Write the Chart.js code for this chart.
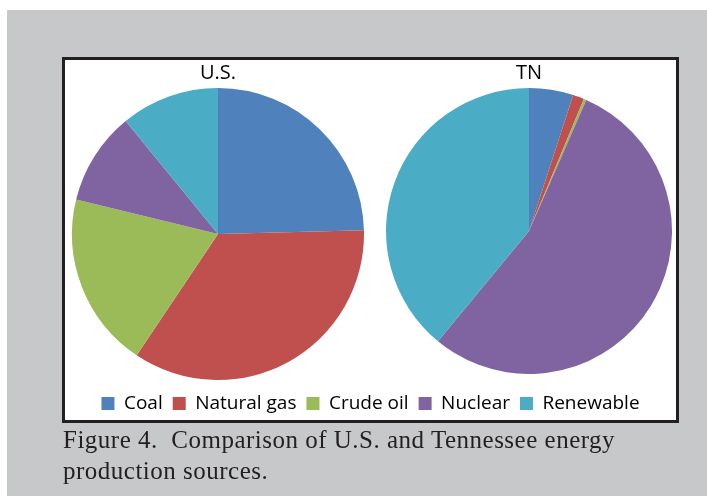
<!DOCTYPE html>
<html>
<head>
<meta charset="utf-8">
<script src="https://cdn.jsdelivr.net/npm/chart.js@4.4.0/dist/chart.umd.min.js"></script>
<style>
html,body{margin:0;padding:0;background:#fff;width:707px;height:496px;overflow:hidden;position:relative;}
#gray{position:absolute;left:7px;top:10px;width:700px;height:486px;background:#c7c8ca;}
#box{position:absolute;left:62px;top:57px;width:617px;height:366px;box-sizing:border-box;border:3px solid #231f20;background:#fff;}
canvas{position:absolute;}
#cUS{left:65px;top:60px;}
#cTN{left:382px;top:60px;}
#cLeg{left:65px;top:384px;}
#cap{position:absolute;left:63px;top:424px;font-family:"Liberation Serif","Times New Roman",serif;font-size:25px;letter-spacing:0.5px;line-height:31px;color:#231f20;white-space:nowrap;}
</style>
</head>
<body>
<div id="gray"></div>
<div id="box"></div>
<canvas id="cUS" width="306" height="320"></canvas>
<canvas id="cTN" width="294" height="314"></canvas>
<canvas id="cLeg" width="611" height="80"></canvas>
<div id="cap">Figure 4.&nbsp; Comparison of U.S. and Tennessee energy<br>production sources.</div>
<script>
// ---- data ----
const categories = ["Coal", "Natural gas", "Crude oil", "Nuclear", "Renewable"];
const usValues = [24.6, 34.8, 19.4, 10.3, 10.9];
const tnValues = [5.0, 1.26, 0.3, 54.4, 39.0];
const chartTitles = ["U.S.", "TN"];
const colors = ["#4F81BD", "#C0504D", "#9BBB59", "#8064A2", "#4BACC6"];

const FONT = "'Open Sans', 'Liberation Sans', sans-serif";

function pieChart(id, title, values) {
  return new Chart(document.getElementById(id), {
    type: "pie",
    data: {
      labels: categories,
      datasets: [{
        data: values,
        backgroundColor: colors,
        borderWidth: 0,
        hoverOffset: 0,
        offset: 0
      }]
    },
    options: {
      responsive: false,
      animation: false,
      layout: { padding: 0 },
      plugins: {
        legend: { display: false },
        tooltip: { enabled: false },
        title: {
          display: true,
          text: title,
          color: "#000",
          font: { family: FONT, size: 20, weight: "normal", lineHeight: 1.2 },
          padding: { top: 1, bottom: 3 }
        }
      }
    }
  });
}

pieChart("cUS", chartTitles[0], usValues);
pieChart("cTN", chartTitles[1], tnValues);

new Chart(document.getElementById("cLeg"), {
  type: "bar",
  data: {
    labels: [],
    datasets: categories.map((c, i) => ({
      label: c, data: [], backgroundColor: colors[i], borderWidth: 0
    }))
  },
  options: {
    responsive: false,
    animation: false,
    scales: { x: { display: false }, y: { display: false } },
    plugins: {
      tooltip: { enabled: false },
      legend: {
        display: true,
        position: "top",
        labels: {
          boxWidth: 13,
          boxHeight: 13,
          color: "#000",
          padding: 10,
          font: { family: FONT, size: 19 }
        }
      }
    }
  }
});
</script>
</body>
</html>
